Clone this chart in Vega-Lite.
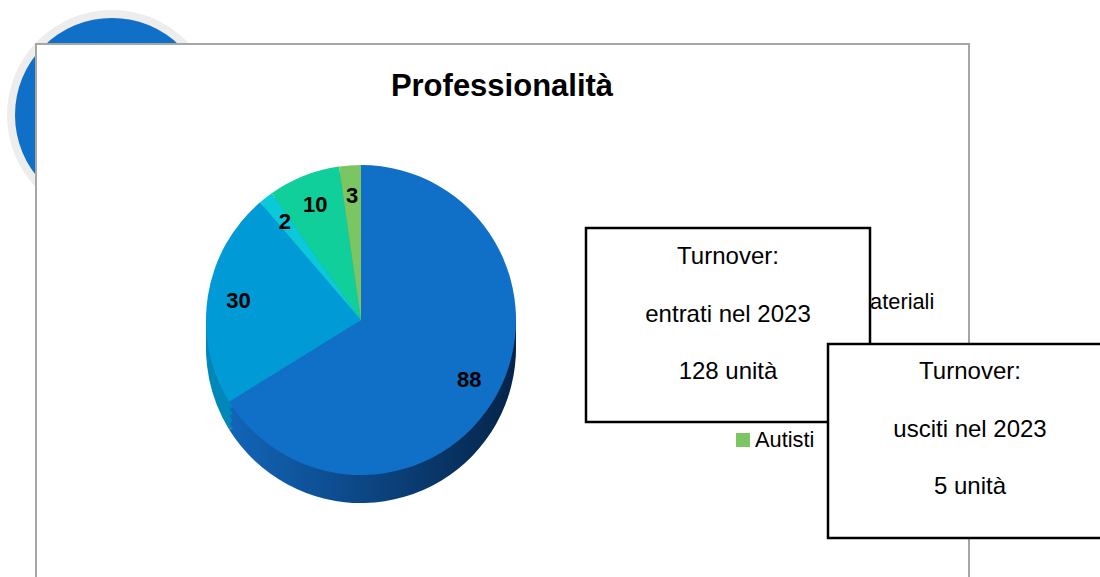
{
  "$schema": "https://vega.github.io/schema/vega-lite/v6.json",
  "width": 1100,
  "height": 577,
  "autosize": {"type": "fit", "contains": "padding"},
  "padding": 0,
  "background": "white",
  "config": {"view": {"stroke": null}, "font": "Liberation Sans"},
  "data": {"values": [
    {"cat": "Operatori", "v": 88, "n": 1},
    {"cat": "Addetti ai materiali", "v": 30, "n": 2},
    {"cat": "Impiegati", "v": 2, "n": 3},
    {"cat": "Tecnici", "v": 10, "n": 4},
    {"cat": "Autisti", "v": 3, "n": 5}
  ]},
  "resolve": {"scale": {"y": "independent"}},
  "layer": [
    {
      "layer": [
        {
          "data": {"values": [{}]},
          "mark": {"type": "point", "shape": "circle", "filled": true, "size": 44100, "color": "#EDEDED", "opacity": 1},
          "encoding": {
            "x": {"datum": 112, "type": "quantitative", "scale": {"domain": [0, 1100], "nice": false, "zero": false}, "axis": null},
            "y": {"datum": 115, "type": "quantitative", "scale": {"domain": [0, 577], "reverse": true, "nice": false, "zero": false}, "axis": null}
          }
        },
        {
          "data": {"values": [{}]},
          "mark": {"type": "point", "shape": "circle", "filled": true, "size": 37636, "color": "#1070C8", "opacity": 1},
          "encoding": {
            "x": {"datum": 112, "type": "quantitative", "axis": null},
            "y": {"datum": 115, "type": "quantitative", "axis": null}
          }
        },
        {
          "data": {"values": [{}]},
          "mark": {"type": "rect", "fill": "white", "stroke": "#A6A6A6", "strokeWidth": 2, "clip": true},
          "encoding": {
            "x": {"datum": 36, "type": "quantitative", "axis": null},
            "x2": {"datum": 969},
            "y": {"datum": 44, "type": "quantitative", "axis": null},
            "y2": {"datum": 592}
          }
        },
        {
          "data": {"values": [{}]},
          "mark": {"type": "text", "font": "Liberation Sans", "fontWeight": "bold", "fontSize": 31, "align": "center", "baseline": "middle", "color": "#000000"},
          "encoding": {
            "x": {"datum": 502, "type": "quantitative", "axis": null},
            "y": {"datum": 87, "type": "quantitative", "axis": null},
            "text": {"value": "Professionalità"}
          }
        },
        {
          "mark": {"type": "arc", "outerRadius": 155, "yOffset": 28},
          "encoding": {
            "x": {"datum": 361, "type": "quantitative", "axis": null},
            "y": {"datum": 320, "type": "quantitative", "axis": null},
            "theta": {"field": "v", "type": "quantitative", "stack": true},
            "order": {"field": "n", "type": "quantitative"},
            "fill": {
              "condition": {"test": "datum.v == 88", "value": {"gradient": "linear", "x1": 0, "x2": 1, "y1": 0, "y2": 0, "stops": [{"offset": 0, "color": "#1265B8"}, {"offset": 1, "color": "#052449"}]}},
              "field": "n", "type": "nominal",
              "scale": {"domain": [1, 2, 3, 4, 5], "range": ["#0B4F92", "#0087B9", "#0AA5B3", "#0FA97E", "#5FA24C"]},
              "legend": null
            }
          }
        },
        {
          "mark": {"type": "arc", "outerRadius": 155, "yOffset": 21},
          "encoding": {
            "x": {"datum": 361, "type": "quantitative", "axis": null},
            "y": {"datum": 320, "type": "quantitative", "axis": null},
            "theta": {"field": "v", "type": "quantitative", "stack": true},
            "order": {"field": "n", "type": "quantitative"},
            "fill": {
              "condition": {"test": "datum.v == 88", "value": {"gradient": "linear", "x1": 0, "x2": 1, "y1": 0, "y2": 0, "stops": [{"offset": 0, "color": "#1265B8"}, {"offset": 1, "color": "#052449"}]}},
              "field": "n", "type": "nominal",
              "legend": null
            }
          }
        },
        {
          "mark": {"type": "arc", "outerRadius": 155, "yOffset": 14},
          "encoding": {
            "x": {"datum": 361, "type": "quantitative", "axis": null},
            "y": {"datum": 320, "type": "quantitative", "axis": null},
            "theta": {"field": "v", "type": "quantitative", "stack": true},
            "order": {"field": "n", "type": "quantitative"},
            "fill": {
              "condition": {"test": "datum.v == 88", "value": {"gradient": "linear", "x1": 0, "x2": 1, "y1": 0, "y2": 0, "stops": [{"offset": 0, "color": "#1265B8"}, {"offset": 1, "color": "#052449"}]}},
              "field": "n", "type": "nominal",
              "legend": null
            }
          }
        },
        {
          "mark": {"type": "arc", "outerRadius": 155, "yOffset": 7},
          "encoding": {
            "x": {"datum": 361, "type": "quantitative", "axis": null},
            "y": {"datum": 320, "type": "quantitative", "axis": null},
            "theta": {"field": "v", "type": "quantitative", "stack": true},
            "order": {"field": "n", "type": "quantitative"},
            "fill": {
              "condition": {"test": "datum.v == 88", "value": {"gradient": "linear", "x1": 0, "x2": 1, "y1": 0, "y2": 0, "stops": [{"offset": 0, "color": "#1265B8"}, {"offset": 1, "color": "#052449"}]}},
              "field": "n", "type": "nominal",
              "legend": null
            }
          }
        },
        {
          "mark": {"type": "arc", "outerRadius": 155},
          "encoding": {
            "x": {"datum": 361, "type": "quantitative", "axis": null},
            "y": {"datum": 320, "type": "quantitative", "axis": null},
            "theta": {"field": "v", "type": "quantitative", "stack": true},
            "order": {"field": "n", "type": "quantitative"},
            "color": {
              "field": "cat", "type": "nominal",
              "scale": {"domain": ["Operatori", "Addetti ai materiali", "Impiegati", "Tecnici", "Autisti"], "range": ["#106FC6", "#009BD6", "#0BC9D9", "#11CF9A", "#7CC563"]},
              "legend": null
            }
          }
        },
        {
          "mark": {"type": "text", "radius": 124, "font": "Liberation Sans", "fontWeight": "bold", "fontSize": 22, "color": "#000000", "align": "center", "baseline": "middle"},
          "encoding": {
            "x": {"datum": 361, "type": "quantitative", "axis": null},
            "y": {"datum": 320, "type": "quantitative", "axis": null},
            "theta": {"field": "v", "type": "quantitative", "stack": true},
            "order": {"field": "n", "type": "quantitative"},
            "text": {"field": "v", "type": "quantitative"}
          }
        }
      ]
    },
    {
      "layer": [
        {
          "mark": {"type": "point", "shape": "square", "filled": true, "size": 196, "opacity": 1, "strokeWidth": 0},
          "encoding": {
            "x": {"datum": 743, "type": "quantitative", "axis": null},
            "y": {"field": "n", "type": "quantitative", "scale": {"domain": [-4.565, 7.978], "reverse": true, "nice": false, "zero": false}, "axis": null},
            "color": {"field": "cat", "type": "nominal", "legend": null}
          }
        },
        {
          "mark": {"type": "text", "font": "Liberation Sans", "fontSize": 21.8, "align": "left", "baseline": "middle", "color": "#000000"},
          "encoding": {
            "x": {"datum": 755, "type": "quantitative", "axis": null},
            "y": {"field": "n", "type": "quantitative", "axis": null},
            "text": {"field": "cat", "type": "nominal"}
          }
        }
      ]
    },
    {
      "layer": [
        {
          "data": {"values": [{}]},
          "mark": {"type": "rect", "fill": "white", "stroke": "#000000", "strokeWidth": 2.5},
          "encoding": {
            "x": {"datum": 586, "type": "quantitative", "axis": null},
            "x2": {"datum": 870},
            "y": {"datum": 228, "type": "quantitative", "scale": {"domain": [0, 577], "reverse": true, "nice": false, "zero": false}, "axis": null},
            "y2": {"datum": 422}
          }
        },
        {
          "data": {"values": [{}]},
          "mark": {"type": "text", "font": "Liberation Sans", "fontSize": 24, "lineHeight": 57.5, "align": "center", "baseline": "middle", "color": "#000000"},
          "encoding": {
            "x": {"datum": 728, "type": "quantitative", "axis": null},
            "y": {"datum": 257, "type": "quantitative", "axis": null},
            "text": {"value": ["Turnover:", "entrati nel 2023", "128 unità"]}
          }
        },
        {
          "data": {"values": [{}]},
          "mark": {"type": "rect", "fill": "white", "stroke": "#000000", "strokeWidth": 2.5, "clip": true},
          "encoding": {
            "x": {"datum": 828, "type": "quantitative", "axis": null},
            "x2": {"datum": 1112},
            "y": {"datum": 344, "type": "quantitative", "axis": null},
            "y2": {"datum": 538}
          }
        },
        {
          "data": {"values": [{}]},
          "mark": {"type": "text", "font": "Liberation Sans", "fontSize": 24, "lineHeight": 57.5, "align": "center", "baseline": "middle", "color": "#000000"},
          "encoding": {
            "x": {"datum": 970, "type": "quantitative", "axis": null},
            "y": {"datum": 372, "type": "quantitative", "axis": null},
            "text": {"value": ["Turnover:", "usciti nel 2023", "5 unità"]}
          }
        }
      ]
    }
  ]
}
